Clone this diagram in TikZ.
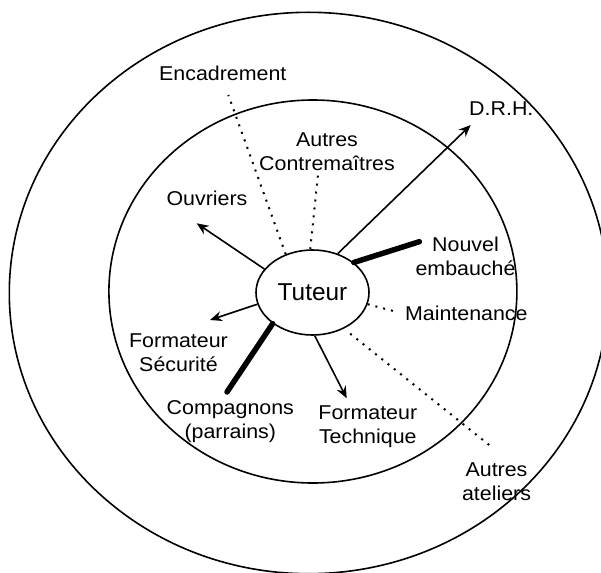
\documentclass[tikz,border=0pt]{standalone}
\usepackage{fontspec}
\setmainfont{Liberation Sans}
\newfontfamily\lblfont[FakeStretch=1.07]{Liberation Sans}
\usetikzlibrary{arrows.meta,shapes.geometric}

\begin{document}
\begin{tikzpicture}[x=1pt,y=-1pt,
  ring/.style={line width=1.6pt},
  lbl/.style={font=\lblfont\fontsize{20}{24}\selectfont, align=center, anchor=base, inner sep=0pt},
  arrowline/.style={line width=1.6pt, -{Stealth[length=12pt,width=10pt,inset=4pt]}},
  heavyline/.style={line width=5.5pt, line cap=round},
  dotline/.style={line width=2pt, dash pattern=on 2pt off 6pt},
]
\useasboundingbox (0,0) rectangle (601,572);

% outer and inner circles of the environment
\draw[ring] (308.6,293) ellipse [x radius=299.3, y radius=280.7];
\draw[ring] (312.9,291.5) ellipse [x radius=204, y radius=191.5];

% central node
\node[draw, ellipse, line width=1.6pt, minimum width=113pt, minimum height=85pt,
      inner sep=0pt, font=\fontsize{24.4}{28}\selectfont] (tut) at (312.5,292.5) {Tuteur};

% labels (base anchor sits on the last line)
\node[lbl] (enc)  at (222.8,81)    {Encadrement};
\node[lbl] (drh)  at (501.3,115.3) {D.R.H.};
\node[lbl] (ac)   at (327,170.3)   {Autres\\Contremaîtres};
\node[lbl] (ouv)  at (207,205.3)   {Ouvriers};
\node[lbl] (nouv) at (465.5,275.5) {Nouvel\\embauché};
\node[lbl] (mnt)  at (466.3,320.3) {Maintenance};
\node[lbl] (fs)   at (178.5,371.7) {Formateur\\Sécurité};
\node[lbl] (comp) at (230.3,438.3) {Compagnons\\(parrains)};
\node[lbl] (ft)   at (367.8,443.7) {Formateur\\Technique};
\node[lbl] (aat)  at (496.5,500.3) {Autres\\ateliers};

% free ends of the connectors
\coordinate (encE)  at (228.3,95);
\coordinate (acE)   at (318.3,171.7);
\coordinate (ouvE)  at (196.7,223.3);
\coordinate (drhE)  at (470.7,125);
\coordinate (nouvE) at (419.3,241.7);
\coordinate (mntE)  at (393.3,311);
\coordinate (fsE)   at (210,320);
\coordinate (compE) at (227,392);
\coordinate (ftE)   at (346.7,398.3);
\coordinate (aatE)  at (493.3,448.3);

% connectors
\draw[dotline] (tut.125) -- (encE);
\draw[dotline] (tut.93) -- (acE);
\draw[dotline] (tut.-12.6) -- (mntE);
\draw[dotline, shorten <=8pt] (tut.311.4) -- (aatE);
\draw[arrowline] (tut.154.3) -- (ouvE);
\draw[arrowline] (tut.57) -- (drhE);
\draw[arrowline] (tut.192.6) -- (fsE);
\draw[arrowline] (tut.273.6) -- (ftE);
\draw[heavyline] (tut.36) -- (nouvE);
\draw[heavyline] (tut.218.1) -- (compE);
\end{tikzpicture}
\end{document}
